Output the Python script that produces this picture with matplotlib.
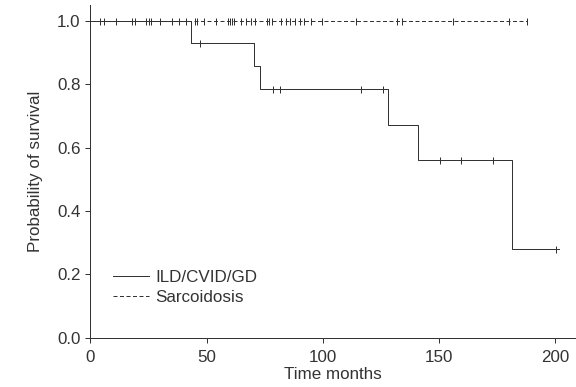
import numpy as np
import matplotlib.pyplot as plt

plt.rcParams['font.family'] = ['Liberation Sans', 'DejaVu Sans']

# ILD/CVID/GD: event times and survival levels (step curve)
ild_times = [0, 43.3, 70.6, 73.1, 128.0, 141.0, 181.5, 201.5]
ild_surv = [1.0, 0.929, 0.857, 0.786, 0.673, 0.561, 0.280, 0.280]
ild_censor = [47.2, 78.5, 81.4, 116.6, 126.0, 150.6, 159.3, 173.4, 200.2]

# Sarcoidosis: no events, only censored observations
sarc_times = [0, 188]
sarc_surv = [1.0, 1.0]
sarc_censor = [4, 6, 11, 18, 19, 24, 25, 26, 30, 35, 38, 41, 45, 46, 49,
               54, 59, 60, 61, 62, 65, 67, 69, 71, 76, 77, 78, 82, 84, 86,
               88, 90, 92, 95, 99.5, 114.5, 132, 134, 156, 180, 188]


def surv_at(t, times, surv):
    idx = np.searchsorted(times, t, side='right') - 1
    return np.array(surv)[idx]


fig = plt.figure(figsize=(8, 5.375), dpi=72)
ax = fig.add_axes([0.157, 0.127, 0.843, 0.86])

col = '#333333'
ax.step(ild_times, ild_surv, where='post', color=col, lw=1.0,
        label='ILD/CVID/GD')
ax.step(sarc_times, sarc_surv, where='post', color=col, lw=1.0,
        ls=(0, (4, 2.5)), label='Sarcoidosis')

ax.plot(ild_censor, surv_at(ild_censor, ild_times, ild_surv), ls='none',
        marker='|', ms=7, mew=1.0, color=col)
ax.plot(sarc_censor, surv_at(sarc_censor, sarc_times, sarc_surv), ls='none',
        marker='|', ms=7, mew=1.0, color=col)

ax.set_xlim(0, 209)
ax.set_ylim(0, 1.05)
ax.set_xticks([0, 50, 100, 150, 200])
ax.set_yticks([0.0, 0.2, 0.4, 0.6, 0.8, 1.0])
ax.set_yticklabels(['0.0', '0.2', '0.4', '0.6', '0.8', '1.0'])

for s in ['top', 'right']:
    ax.spines[s].set_visible(False)
for s in ['left', 'bottom']:
    ax.spines[s].set_color(col)
    ax.spines[s].set_linewidth(1.0)
ax.tick_params(colors=col, labelsize=17, length=5, width=1.0)
ax.tick_params(axis='x', pad=7)
ax.tick_params(axis='y', pad=5)

ax.set_xlabel('Time months', fontsize=17, color=col, labelpad=2)
ax.set_ylabel('Probability of survival', fontsize=17, color=col, labelpad=14)

ax.legend(loc='lower left', bbox_to_anchor=(0.015, 0.052), frameon=False,
          fontsize=17, handlelength=2.1, handletextpad=0.4,
          labelspacing=0.3, borderpad=0.4, labelcolor=col)

fig.savefig('out.png', dpi=72)
